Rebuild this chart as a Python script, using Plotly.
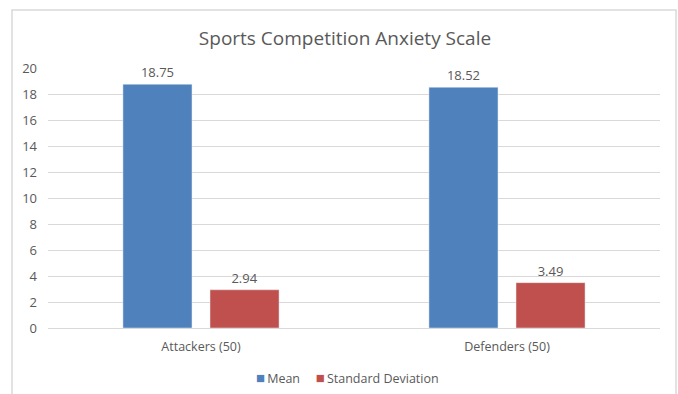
import plotly.graph_objects as go

categories = ["Attackers (50)", "Defenders (50)"]
series_names = ["Mean", "Standard Deviation"]
series_colors = ["#4F81BD", "#C0504D"]
mean_vals = [18.75, 18.52]
sd_vals = [2.94, 3.49]
y_ticks = [0, 2, 4, 6, 8, 10, 12, 14, 16, 18, 20]

W, H = 678, 394
L, R, T, B = 48, 18, 68, 66
pw, ph = W - L - R, H - T - B

def px(x):
    return (x - L) / pw

def py(y):
    return (H - B - y) / ph

font = "Open Sans, Liberation Sans, sans-serif"
grey = "#595959"

fig = go.Figure()
for name, color, vals in zip(series_names, series_colors, [mean_vals, sd_vals]):
    fig.add_trace(go.Bar(x=categories, y=vals, name=name, marker_color=color,
                         text=[f"{v:.2f}" for v in vals], textposition="outside",
                         textfont=dict(color=grey, size=13, family=font), cliponaxis=False,
                         showlegend=False))

legend_text = "\u2003 ".join(
    f"<span style='color:{c};font-size:15px'>■</span>\u2009{n}" for n, c in zip(series_names, series_colors)
)

fig.update_layout(
    width=W, height=H,
    margin=dict(l=L, r=R, t=T, b=B, autoexpand=False),
    paper_bgcolor="white", plot_bgcolor="white",
    barmode="group", bargap=0.431, bargroupgap=0.207,
    title=dict(text="Sports Competition Anxiety Scale", x=345 / W, xref="container", xanchor="center",
               y=1 - 38 / H, yanchor="middle",
               font=dict(family=font, size=19, color=grey)),
    font=dict(family=font, color=grey, size=13),
    showlegend=False,
    yaxis=dict(range=[0, 20], tickvals=y_ticks, gridcolor="#D9D9D9", gridwidth=1,
               showline=False, zeroline=False, ticks="", ticklen=0, automargin=False,
               tickfont=dict(size=13, color=grey), ticklabelstandoff=10),
    xaxis=dict(showline=True, linecolor="#D9D9D9", ticks="", tickfont=dict(size=12.5, color=grey),
               ticklabelstandoff=7, automargin=False),
    annotations=[dict(text=legend_text, xref="paper", yref="paper", x=px(347), y=py(377),
                      xanchor="center", yanchor="middle", showarrow=False,
                      font=dict(size=12.5, color=grey, family=font))],
    shapes=[dict(type="rect", xref="paper", yref="paper",
                 x0=px(12), x1=px(676), y0=py(410), y1=py(10),
                 line=dict(color="#D9D9D9", width=1.5), fillcolor="rgba(0,0,0,0)", layer="below")],
)

fig.write_html("out.html")
